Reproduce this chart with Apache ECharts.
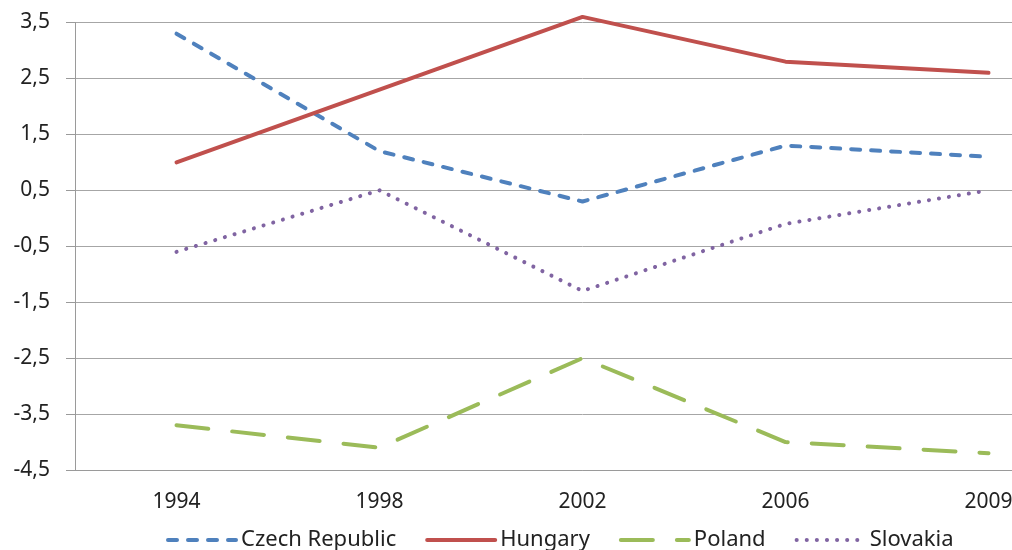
<!DOCTYPE html>
<html>
<head>
<meta charset="utf-8">
<script src="https://cdn.jsdelivr.net/npm/echarts@6/dist/echarts.min.js"></script>
<style>html,body{margin:0;padding:0;background:#fff;overflow:hidden;width:1012px;height:550px}#c{width:1090px;height:550px}</style>
</head>
<body>
<div id="c"></div>
<script>
var years = ['1994', '1998', '2002', '2006', '2009'];
var czech = [3.3, 1.2, 0.3, 1.3, 1.1];
var hungary = [1.0, 2.3, 3.6, 2.8, 2.6];
var poland = [-3.7, -4.1, -2.5, -4.0, -4.2];
var slovakia = [-0.6, 0.5, -1.3, -0.1, 0.5];

var font = '"Noto Sans", sans-serif';
var chart = echarts.init(document.getElementById('c'), null, {renderer: 'canvas'});
function mk(name, data, color, dash) {
  return {
    name: name, type: 'line', data: data, symbol: 'circle', showSymbol: false, smooth: false, clip: false,
    lineStyle: {color: color, width: 4, type: dash, cap: 'round', join: 'round'},
    itemStyle: {color: color},
    emphasis: {disabled: true}
  };
}
chart.setOption({
  animation: false,
  backgroundColor: '#ffffff',
  grid: {left: 75, right: 0, top: 22.5, bottom: 80, containLabel: false},
  xAxis: {
    type: 'category', data: years, boundaryGap: true,
    axisLine: {show: true, onZero: false, lineStyle: {color: '#9a9a9a', width: 1}},
    axisTick: {show: false},
    axisLabel: {fontFamily: font, fontSize: 21, color: '#222', margin: 22},
    splitLine: {show: false}
  },
  yAxis: {
    type: 'value', min: -4.5, max: 3.5, interval: 1,
    axisLine: {show: true, lineStyle: {color: '#9a9a9a', width: 1}},
    axisTick: {show: true, length: 9, lineStyle: {color: '#9a9a9a'}},
    axisLabel: {fontFamily: font, fontSize: 21, color: '#222', margin: 25,
      formatter: function (v) { return v.toFixed(1).replace('.', ','); }},
    splitLine: {show: true, lineStyle: {color: '#a6a6a6', width: 1}}
  },
  legend: {
    top: 524, left: 161, itemWidth: 68, itemHeight: 14, itemGap: 29,
    itemStyle: {opacity: 0},
    lineStyle: {width: 4},
    textStyle: {fontFamily: font, fontSize: 22, color: '#222', padding: [0, 0, 0, 0]},
    data: ['Czech Republic', 'Hungary', 'Poland', 'Slovakia']
  },
  series: [
    mk('Czech Republic', czech, '#4f81bd', [9, 11]),
    mk('Hungary', hungary, '#c0504d', 'solid'),
    mk('Poland', poland, '#9bbb59', [32, 24]),
    mk('Slovakia', slovakia, '#8064a2', [0.1, 10])
  ]
});
</script>
</body>
</html>
